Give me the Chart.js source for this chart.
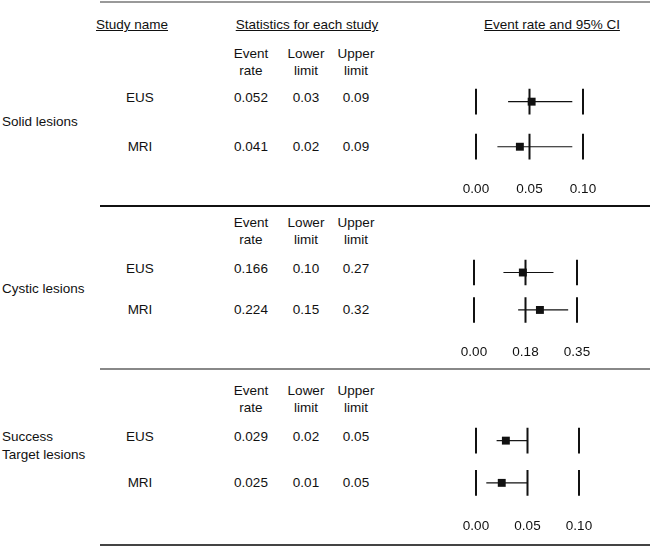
<!DOCTYPE html>
<html>
<head>
<meta charset="utf-8">
<script src="https://cdn.jsdelivr.net/npm/chart.js@4.4.1/dist/chart.umd.min.js"></script>
<style>
  body{margin:0;background:#fff;width:654px;height:547px;position:relative;overflow:hidden;font-family:"Liberation Sans",Arial,sans-serif;font-size:13.5px;color:#111}
  .t{position:absolute;white-space:nowrap;line-height:16px;height:16px}
  .c{transform:translateX(-50%)}
  .u{text-decoration:underline}
  .hr{position:absolute;left:100px;width:550px}
  canvas{position:absolute}
</style>
</head>
<body>
<script>
// forest plot data
const studies = ['EUS', 'MRI'];
const groupNames = ['Solid lesions', 'Cystic lesions', 'Success\nTarget lesions'];

const solidRate = [0.052, 0.041];
const solidLower = [0.03, 0.02];
const solidUpper = [0.09, 0.09];
const solidTicks = [0, 0.05, 0.10];
const solidTickLabels = ['0.00', '0.05', '0.10'];

const cysticRate = [0.166, 0.224];
const cysticLower = [0.10, 0.15];
const cysticUpper = [0.27, 0.32];
const cysticTicks = [0, 0.175, 0.35];
const cysticTickLabels = ['0.00', '0.18', '0.35'];

const targetRate = [0.029, 0.025];
const targetLower = [0.02, 0.01];
const targetUpper = [0.05, 0.05];
const targetTicks = [0, 0.05, 0.10];
const targetTickLabels = ['0.00', '0.05', '0.10'];

// layout for each block (pixels)
const panels = [
  { name: groupNames[0], rate: solidRate, lower: solidLower, upper: solidUpper, ticks: solidTicks, tickLabels: solidTickLabels,
    rowY: [98, 147], headY: 54, groupY: [122], tickY: 190, px: [476, 583] },
  { name: groupNames[1], rate: cysticRate, lower: cysticLower, upper: cysticUpper, ticks: cysticTicks, tickLabels: cysticTickLabels,
    rowY: [269, 310], headY: 223, groupY: [289], tickY: 353, px: [474, 577] },
  { name: groupNames[2], rate: targetRate, lower: targetLower, upper: targetUpper, ticks: targetTicks, tickLabels: targetTickLabels,
    rowY: [437, 483], headY: 391, groupY: [437, 455], tickY: 527, px: [476, 579] }
];

const FONT = 13.5, FAMILY = '"Liberation Sans", Arial, sans-serif', INK = '#111';
const COLS = [251, 306, 356];

function txt(s, x, cy, cls){
  const d = document.createElement('div');
  d.className = 't ' + (cls || '');
  d.textContent = s;
  d.style.left = x + 'px';
  d.style.top = (cy - 8) + 'px';
  document.body.appendChild(d);
}
function hr(y, h, color){
  const d = document.createElement('div');
  d.className = 'hr';
  d.style.top = y + 'px'; d.style.height = h + 'px'; d.style.background = color;
  document.body.appendChild(d);
}

// top titles and rules
txt('Study name', 132, 25, 'c u');
txt('Statistics for each study', 307, 25, 'c u');
txt('Event rate and 95% CI', 552, 25, 'c u');
hr(1, 2, '#999');
hr(205, 2, '#111');
hr(368, 2, '#888');
hr(544, 1.5, '#444');

function buildPanel(p, idx){
  // table text
  txt('Event', COLS[0], p.headY, 'c'); txt('rate', COLS[0], p.headY + 17, 'c');
  txt('Lower', COLS[1], p.headY, 'c'); txt('limit', COLS[1], p.headY + 17, 'c');
  txt('Upper', COLS[2], p.headY, 'c'); txt('limit', COLS[2], p.headY + 17, 'c');
  p.name.split('\n').forEach((line, i) => txt(line, 2, p.groupY[i]));
  studies.forEach((s, i) => {
    txt(s, 140, p.rowY[i], 'c');
    txt(p.rate[i].toFixed(3), COLS[0], p.rowY[i], 'c');
    txt(p.lower[i].toFixed(2), COLS[1], p.rowY[i], 'c');
    txt(p.upper[i].toFixed(2), COLS[2], p.rowY[i], 'c');
  });

  // canvas geometry so the plot area lands on px / rowY
  const axisH = FONT * 1.2 + 3;
  const s = p.rowY[1] - p.rowY[0];
  const top = p.rowY[0] - 24, bottom = p.tickY - 9;
  const H = Math.ceil(bottom - top + axisH) + 4;
  const pb = H - (bottom - top) - axisH;
  const cv = document.createElement('canvas');
  cv.id = 'panel' + idx;
  cv.width = p.px[1] - p.px[0] + 80; cv.height = H;
  cv.style.left = (p.px[0] - 40) + 'px'; cv.style.top = top + 'px';
  document.body.appendChild(cv);

  const half = 14 / s;
  const datasets = [];
  // estimate squares
  datasets.push({ data: p.rate.map((r, i) => ({ x: r, y: i + 1 })), pointStyle: 'rect', pointRadius: 5.6,
    backgroundColor: INK, borderColor: INK, borderWidth: 0, order: 0 });
  // confidence intervals
  studies.forEach((st, i) => datasets.push({ data: [{ x: p.lower[i], y: i + 1 }, { x: p.upper[i], y: i + 1 }],
    showLine: true, pointRadius: 0, borderColor: INK, borderWidth: 1.2, order: 1 }));
  // short reference marks at each tick, per row
  p.ticks.forEach(t => studies.forEach((st, i) => datasets.push({ data: [{ x: t, y: i + 1 - half }, { x: t, y: i + 1 + half }],
    showLine: true, pointRadius: 0, borderColor: INK, borderWidth: 2, order: 2 })));

  new Chart(cv.getContext('2d'), {
    type: 'scatter',
    data: { datasets },
    options: {
      responsive: false, animation: false, events: [],
      layout: { padding: { left: 40, right: 40, top: 0, bottom: pb } },
      plugins: { legend: { display: false }, tooltip: { enabled: false } },
      elements: { line: { tension: 0 } },
      datasets: { scatter: { clip: false } },
      scales: {
        x: { type: 'linear', min: p.ticks[0], max: p.ticks[p.ticks.length - 1],
          afterBuildTicks: sc => { sc.ticks = p.ticks.map(v => ({ value: v })); },
          grid: { display: false, drawTicks: false }, border: { display: false },
          ticks: { autoSkip: false, maxRotation: 0, padding: 3, color: INK, font: { size: FONT, family: FAMILY },
            callback: (v, i) => p.tickLabels[i] } },
        y: { type: 'linear', display: false, reverse: true,
          min: 1 - (p.rowY[0] - top) / s, max: 1 + (bottom - p.rowY[0]) / s }
      }
    }
  });
}
panels.forEach(buildPanel);
</script>
</body>
</html>
